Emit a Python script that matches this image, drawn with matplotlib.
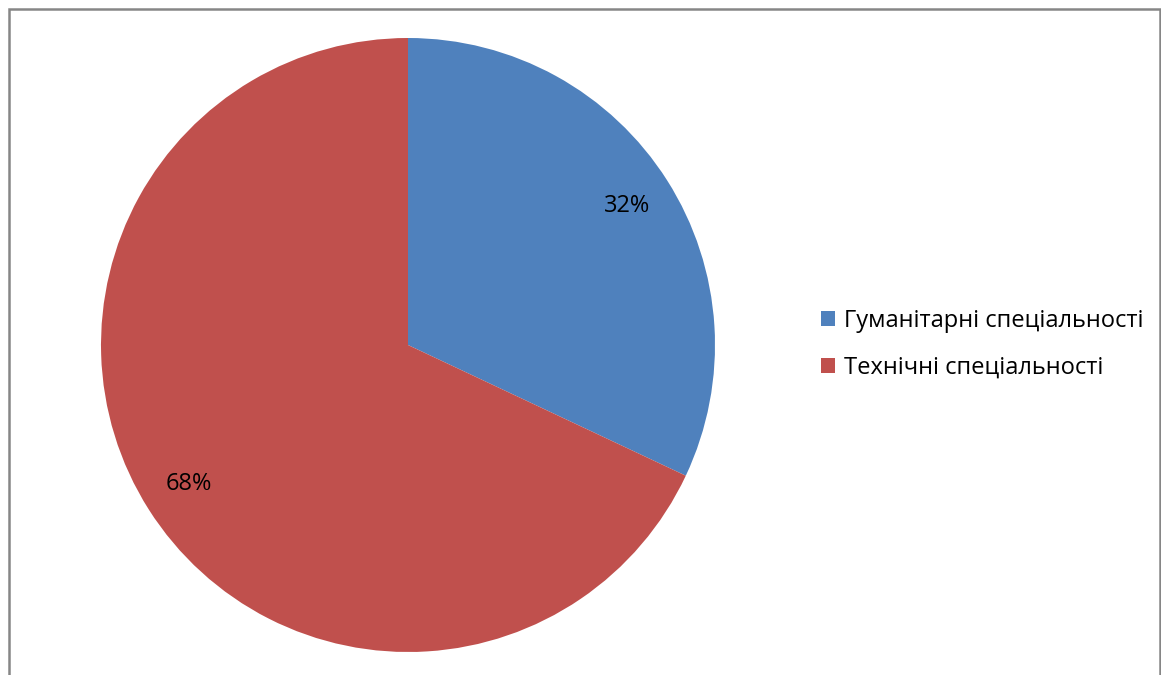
import matplotlib.pyplot as plt
from matplotlib.patches import Rectangle, Patch

labels = ['Гуманітарні спеціальності', 'Технічні спеціальності']
shares = [32, 68]
colors = ['#4F81BD', '#C0504D']

W, H = 1161, 675
plt.rcParams['font.family'] = ['Open Sans', 'DejaVu Sans']

fig = plt.figure(figsize=(W / 100, H / 100), dpi=100)
ax = fig.add_axes([0, 0, 1, 1])

# outer chart frame (bottom edge is cropped in the original)
ax.add_patch(Rectangle((8.5, -10), 1151.5, H - 8.5 + 10, fill=False,
                       edgecolor='#868686', linewidth=1.8))

wedges, texts, autotexts = ax.pie(
    shares, colors=colors, startangle=90, counterclock=False,
    center=(408, H - 345), radius=307, frame=True,
    autopct='%1.0f%%', pctdistance=0.845,
    wedgeprops=dict(linewidth=0),
    textprops=dict(fontsize=17, color='black'))
ax.set_xlim(0, W)
ax.set_ylim(0, H)
ax.set_aspect('equal')
ax.axis('off')

handles = [Patch(facecolor=c, edgecolor='none') for c in colors]
leg = ax.legend(handles, labels, loc='upper left',
                bbox_to_anchor=(821 / W, 1 - 309 / H), frameon=False,
                fontsize=17, handlelength=0.6, handleheight=0.6,
                handletextpad=0.36, labelspacing=0.95, borderpad=0,
                borderaxespad=0)

fig.savefig('out.png', dpi=100)
